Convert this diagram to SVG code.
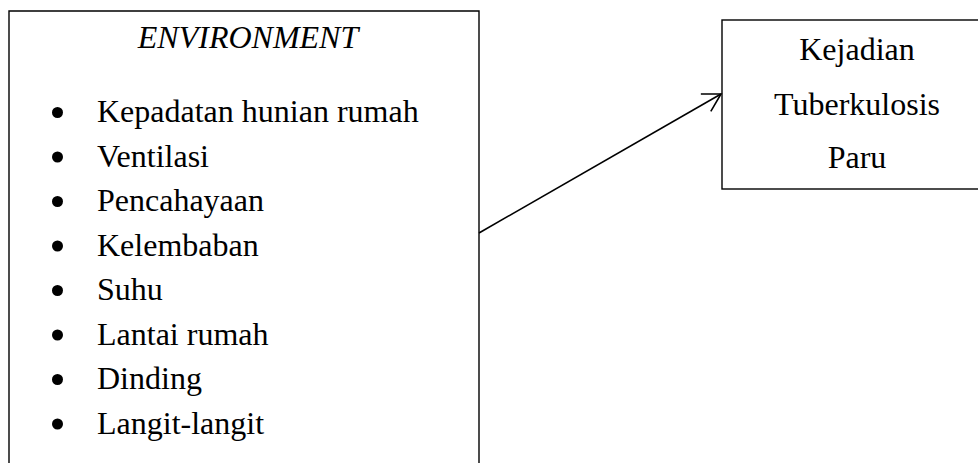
<svg xmlns="http://www.w3.org/2000/svg" width="978" height="463" viewBox="0 0 978 463">
<style>
.box{fill:#fff;stroke:#000;stroke-width:1.4}
.t{font-family:"Liberation Serif","Times New Roman",serif;font-size:32px;fill:#000}
.it{font-style:italic}
.c{text-anchor:middle}
.b{fill:#000}
.ln{stroke:#000;stroke-width:1.6;fill:none}
</style>
<defs>
<marker id="ah" markerUnits="userSpaceOnUse" markerWidth="30" markerHeight="30" viewBox="-25 -15 30 30" refX="0" refY="0" orient="auto">
<path d="M-17.5,-10 L0,0 L-17.5,10" fill="none" stroke="#000" stroke-width="1.6"/>
</marker>
</defs>
<rect width="978" height="463" fill="#fff"/>
<g id="environment">
<path class="box" d="M9,475 L9,11 L479,11 L479,475"/>
<text class="t it c" x="248" y="48">ENVIRONMENT</text>
<circle class="b" cx="57.5" cy="112.5" r="5.5"/><text class="t" x="97" y="122">Kepadatan hunian rumah</text>
<circle class="b" cx="57.5" cy="157" r="5.5"/><text class="t" x="97" y="166.5">Ventilasi</text>
<circle class="b" cx="57.5" cy="201.5" r="5.5"/><text class="t" x="97" y="211">Pencahayaan</text>
<circle class="b" cx="57.5" cy="246" r="5.5"/><text class="t" x="97" y="255.5">Kelembaban</text>
<circle class="b" cx="57.5" cy="290.5" r="5.5"/><text class="t" x="97" y="300">Suhu</text>
<circle class="b" cx="57.5" cy="335" r="5.5"/><text class="t" x="97" y="344.5">Lantai rumah</text>
<circle class="b" cx="57.5" cy="379.5" r="5.5"/><text class="t" x="97" y="389">Dinding</text>
<circle class="b" cx="57.5" cy="424" r="5.5"/><text class="t" x="97" y="433.5">Langit-langit</text>
</g>
<g id="kejadian">
<rect class="box" x="722" y="20" width="280" height="169"/>
<text class="t c" x="857" y="60">Kejadian</text>
<text class="t c" x="857" y="115">Tuberkulosis</text>
<text class="t c" x="857" y="168">Paru</text>
</g>
<g id="connectors">
<line class="ln" x1="479" y1="233" x2="721" y2="94" marker-end="url(#ah)"/>
</g>
</svg>
